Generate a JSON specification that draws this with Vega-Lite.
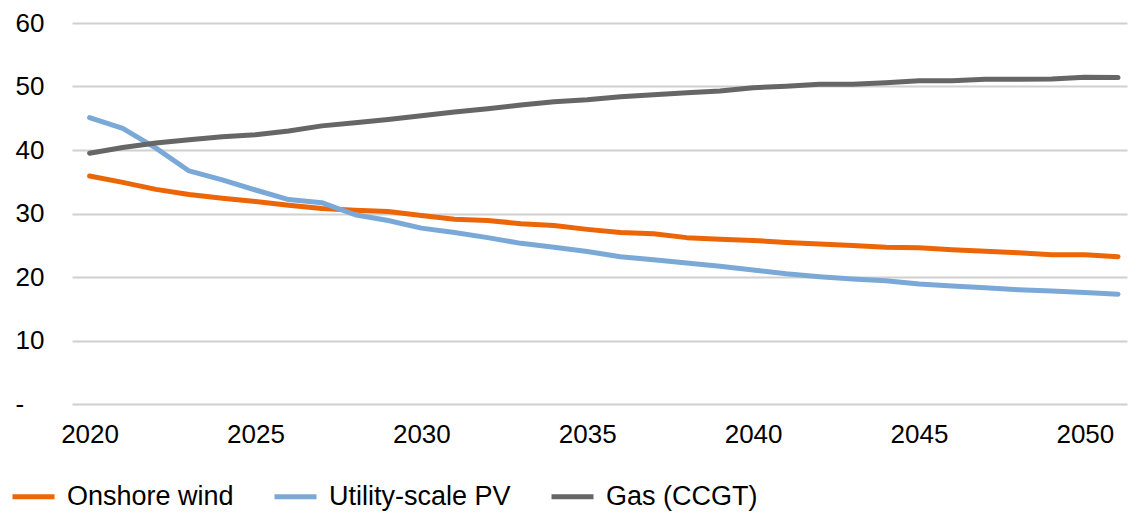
{
  "$schema": "https://vega.github.io/schema/vega-lite/v6.json",
  "autosize": "none",
  "width": 1055,
  "height": 381,
  "padding": {"left": 72, "top": 23, "right": 1, "bottom": 109},
  "background": "white",
  "config": {
    "view": {"stroke": null},
    "font": "Liberation Sans"
  },
  "data": {
    "values": [
      {"year": 2020, "Onshore wind": 35.9, "Utility-scale PV": 45.1, "Gas (CCGT)": 39.5},
      {"year": 2021, "Onshore wind": 34.9, "Utility-scale PV": 43.4, "Gas (CCGT)": 40.4},
      {"year": 2022, "Onshore wind": 33.8, "Utility-scale PV": 40.3, "Gas (CCGT)": 41.1},
      {"year": 2023, "Onshore wind": 33.0, "Utility-scale PV": 36.7, "Gas (CCGT)": 41.6},
      {"year": 2024, "Onshore wind": 32.4, "Utility-scale PV": 35.3, "Gas (CCGT)": 42.1},
      {"year": 2025, "Onshore wind": 31.9, "Utility-scale PV": 33.7, "Gas (CCGT)": 42.4},
      {"year": 2026, "Onshore wind": 31.3, "Utility-scale PV": 32.2, "Gas (CCGT)": 43.0},
      {"year": 2027, "Onshore wind": 30.8, "Utility-scale PV": 31.7, "Gas (CCGT)": 43.8},
      {"year": 2028, "Onshore wind": 30.5, "Utility-scale PV": 29.8, "Gas (CCGT)": 44.3},
      {"year": 2029, "Onshore wind": 30.3, "Utility-scale PV": 28.9, "Gas (CCGT)": 44.8},
      {"year": 2030, "Onshore wind": 29.7, "Utility-scale PV": 27.7, "Gas (CCGT)": 45.4},
      {"year": 2031, "Onshore wind": 29.1, "Utility-scale PV": 27.0, "Gas (CCGT)": 46.0},
      {"year": 2032, "Onshore wind": 28.9, "Utility-scale PV": 26.2, "Gas (CCGT)": 46.5},
      {"year": 2033, "Onshore wind": 28.4, "Utility-scale PV": 25.3, "Gas (CCGT)": 47.1},
      {"year": 2034, "Onshore wind": 28.1, "Utility-scale PV": 24.7, "Gas (CCGT)": 47.6},
      {"year": 2035, "Onshore wind": 27.5, "Utility-scale PV": 24.0, "Gas (CCGT)": 47.9},
      {"year": 2036, "Onshore wind": 27.0, "Utility-scale PV": 23.2, "Gas (CCGT)": 48.4},
      {"year": 2037, "Onshore wind": 26.8, "Utility-scale PV": 22.7, "Gas (CCGT)": 48.7},
      {"year": 2038, "Onshore wind": 26.2, "Utility-scale PV": 22.2, "Gas (CCGT)": 49.0},
      {"year": 2039, "Onshore wind": 25.95, "Utility-scale PV": 21.7, "Gas (CCGT)": 49.3},
      {"year": 2040, "Onshore wind": 25.75, "Utility-scale PV": 21.1, "Gas (CCGT)": 49.8},
      {"year": 2041, "Onshore wind": 25.45, "Utility-scale PV": 20.5, "Gas (CCGT)": 50.05},
      {"year": 2042, "Onshore wind": 25.2, "Utility-scale PV": 20.05, "Gas (CCGT)": 50.35},
      {"year": 2043, "Onshore wind": 24.95, "Utility-scale PV": 19.7, "Gas (CCGT)": 50.35},
      {"year": 2044, "Onshore wind": 24.7, "Utility-scale PV": 19.4, "Gas (CCGT)": 50.6},
      {"year": 2045, "Onshore wind": 24.6, "Utility-scale PV": 18.9, "Gas (CCGT)": 50.9},
      {"year": 2046, "Onshore wind": 24.3, "Utility-scale PV": 18.6, "Gas (CCGT)": 50.9},
      {"year": 2047, "Onshore wind": 24.05, "Utility-scale PV": 18.3, "Gas (CCGT)": 51.15},
      {"year": 2048, "Onshore wind": 23.8, "Utility-scale PV": 18.0, "Gas (CCGT)": 51.15},
      {"year": 2049, "Onshore wind": 23.5, "Utility-scale PV": 17.8, "Gas (CCGT)": 51.2},
      {"year": 2050, "Onshore wind": 23.5, "Utility-scale PV": 17.55, "Gas (CCGT)": 51.45},
      {"year": 2051, "Onshore wind": 23.2, "Utility-scale PV": 17.3, "Gas (CCGT)": 51.4}
    ]
  },
  "transform": [
    {"fold": ["Onshore wind", "Utility-scale PV", "Gas (CCGT)"], "as": ["series", "value"]}
  ],
  "mark": {"type": "line", "strokeWidth": 5, "strokeCap": "round", "strokeJoin": "round"},
  "encoding": {
    "x": {
      "field": "year",
      "type": "quantitative",
      "scale": {"domain": [2019.47, 2051.27], "nice": false, "zero": false},
      "axis": {
        "title": null,
        "values": [2020, 2025, 2030, 2035, 2040, 2045, 2050],
        "format": "d",
        "grid": false,
        "domain": false,
        "ticks": false,
        "labelFontSize": 26,
        "labelColor": "#000000",
        "labelPadding": 17,
        "labelDx": 4
      }
    },
    "y": {
      "field": "value",
      "type": "quantitative",
      "scale": {"domain": [0, 60], "nice": false},
      "axis": {
        "title": null,
        "values": [0, 10, 20, 30, 40, 50, 60],
        "labelExpr": "datum.value == 0 ? '-' : datum.label",
        "grid": true,
        "gridColor": "#D0D0D0",
        "gridWidth": 2,
        "domain": false,
        "ticks": false,
        "labelAlign": "left",
        "labelPadding": 57,
        "labelFontSize": 26,
        "labelColor": "#000000"
      }
    },
    "color": {
      "field": "series",
      "type": "nominal",
      "sort": ["Onshore wind", "Utility-scale PV", "Gas (CCGT)"],
      "scale": {
        "domain": ["Onshore wind", "Utility-scale PV", "Gas (CCGT)"],
        "range": ["#EC6608", "#7BA9D7", "#666666"]
      },
      "legend": {
        "title": null,
        "orient": "none",
        "legendX": -62,
        "legendY": 450,
        "padding": 0,
        "direction": "horizontal",
        "symbolType": "stroke",
        "symbolSize": 1764,
        "symbolStrokeWidth": 5,
        "labelFontSize": 27,
        "labelLimit": 0,
        "labelColor": "#000000",
        "labelOffset": 10,
        "columnPadding": 30
      }
    }
  }
}
